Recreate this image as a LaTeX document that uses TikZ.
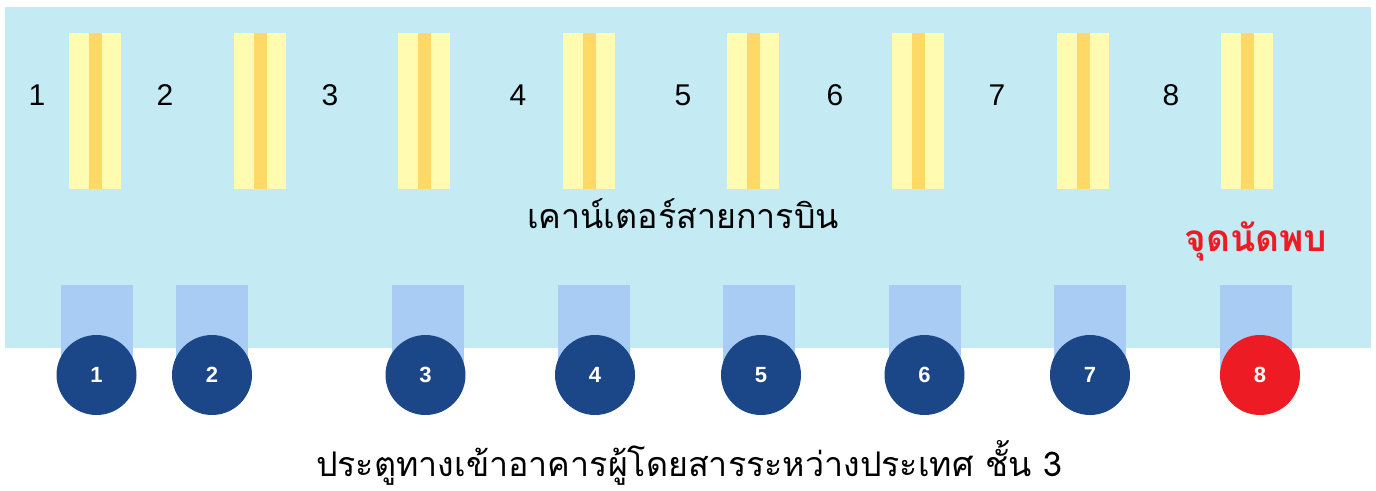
\documentclass[tikz,border=0pt]{standalone}
\usepackage{fontspec}
\setmainfont{Liberation Sans}
\newfontfamily\thaifont[Script=Thai]{Loma}
\usetikzlibrary{positioning}

\definecolor{hallblue}{HTML}{C4EBF3}
\definecolor{deskyellow}{HTML}{FFFCB2}
\definecolor{deskorange}{HTML}{FFD966}
\definecolor{bridgeblue}{HTML}{A9CCF4}
\definecolor{gateblue}{HTML}{1B4788}
\definecolor{meetred}{HTML}{ED1C24}

\tikzset{
  hall/.style={fill=hallblue, minimum width=1366pt, minimum height=341pt, inner sep=0pt, outer sep=0pt},
  counter/.style={fill=deskyellow, minimum width=52pt, minimum height=156pt, inner sep=0pt, outer sep=0pt},
  belt/.style={fill=deskorange, minimum width=13pt, minimum height=156pt, inner sep=0pt, outer sep=0pt},
  deskno/.style={font=\fontsize{30}{30}\selectfont, inner sep=0pt},
  bridge/.style={fill=bridgeblue, minimum width=72pt, minimum height=90pt, inner sep=0pt, outer sep=0pt},
  gate/.style={circle, fill=gateblue, minimum size=80pt, inner sep=0pt, text=white, font=\bfseries\fontsize{22}{22}\selectfont},
  meetgate/.style={gate, fill=meetred},
  caption/.style={font=\thaifont\fontsize{#1}{#1}\selectfont, inner sep=0pt},
  meetlabel/.style={font=\thaifont\bfseries\fontsize{37}{37}\selectfont, text=meetred, inner sep=0pt}
}

\begin{document}
\begin{tikzpicture}[x=1pt, y=-1pt]
  \useasboundingbox (0,0) rectangle (1376,490);

  % check-in hall
  \node[hall] (hall) at (688,177.5) {};

  % counters with belts
  \foreach \i/\x in {1/95,2/260,3/424,4/589,5/753,6/918,7/1083,8/1247}{
    \node[counter] (counter\i) at (\x,111) {};
    \node[belt] (belt\i) at (counter\i.center) {};
  }
  \foreach \i/\x in {1/37,2/165,3/330,4/518,5/683,6/835,7/997,8/1171}
    \node[deskno] (deskno\i) at (\x,95) {\i};

  \node[caption=34] (counters) at (683,214) {เคาน์เตอร์สายการบิน};
  \node[meetlabel] (meet) at (1256,241) {จุดนัดพบ};

  % boarding bridges and gates
  \foreach \i/\x in {1/97,2/212,3/428,4/594,5/759,6/925,7/1090,8/1256}
    \node[bridge] (bridge\i) at (\x,330) {};
  \foreach \i/\x in {1/96.5,2/212,3/425.5,4/595,5/761,6/924.5,7/1090}
    \node[gate] (gate\i) at (\x,375) {\i};
  \node[meetgate] (gate8) at (1260,375) {8};

  \node[caption=34] (entrance) at (689,463) {ประตูทางเข้าอาคารผู้โดยสารระหว่างประเทศ ชั้น 3};
\end{tikzpicture}
\end{document}
